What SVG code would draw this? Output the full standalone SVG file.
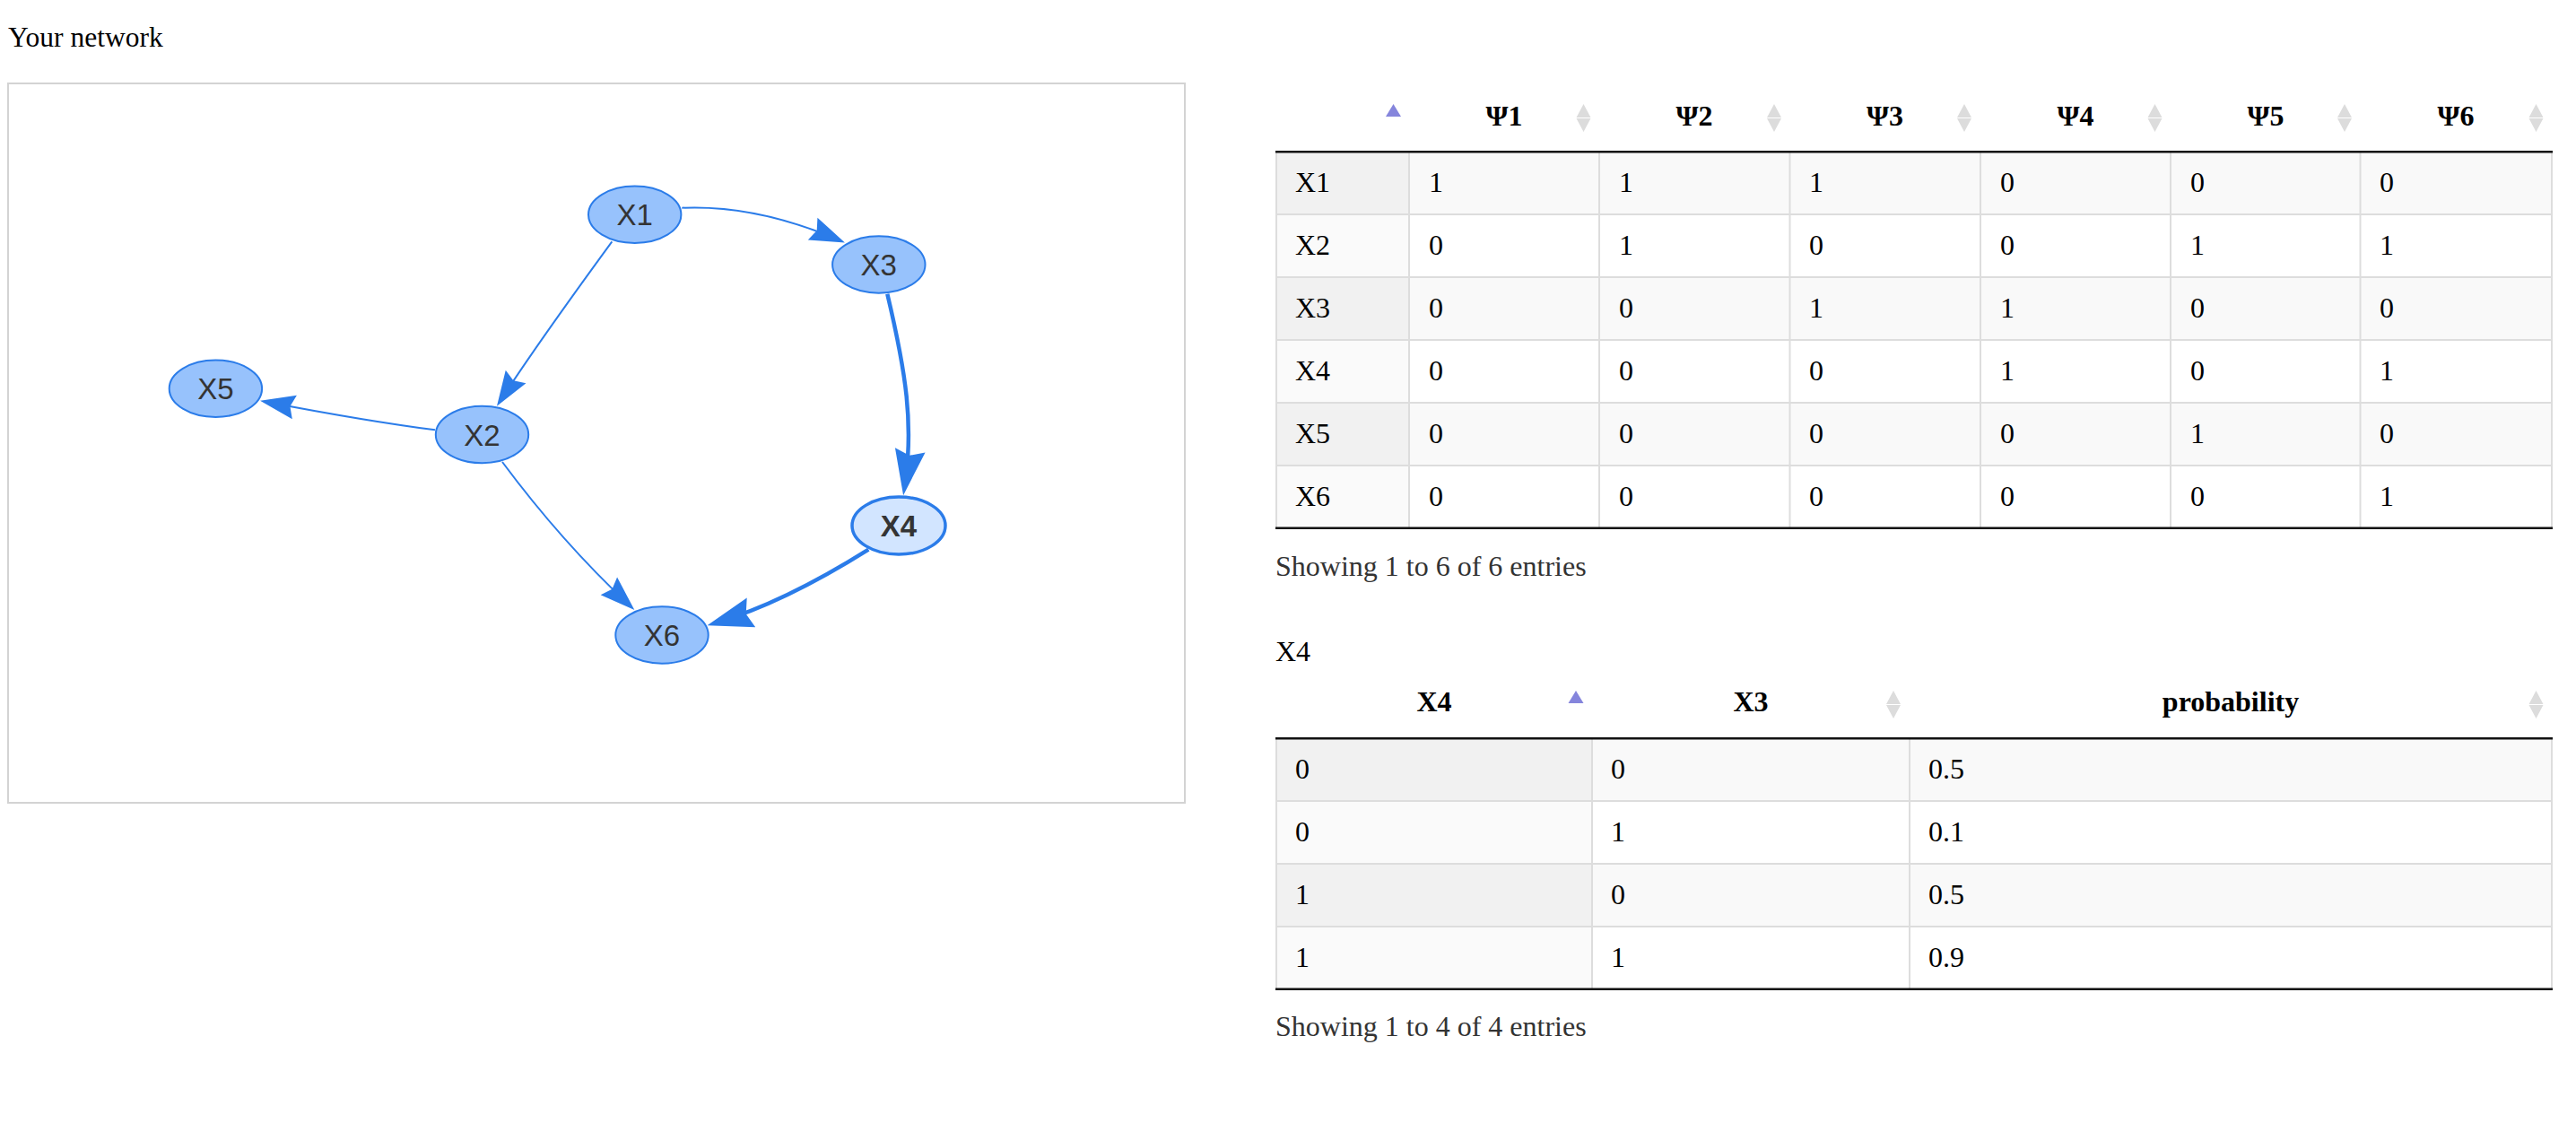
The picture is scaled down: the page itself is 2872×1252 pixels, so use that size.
<svg xmlns="http://www.w3.org/2000/svg" width="2872" height="1252" viewBox="0 0 2872 1252">
<style>
.t{font-family:"Liberation Serif","Times New Roman",serif;font-size:32px;fill:#000}
.h{font-weight:bold;text-anchor:middle}
.info{fill:#333}
.lbl{font-family:"Liberation Sans",Arial,sans-serif;font-size:33px;fill:#343434;text-anchor:middle}
.node{fill:#97c2fc;stroke:#2b7ce9;stroke-width:2}
.sel{fill:#d2e5ff;stroke:#2b7ce9;stroke-width:3.5}
.e{fill:none;stroke:#2b7ce9;stroke-width:2}
.ew{fill:none;stroke:#2b7ce9;stroke-width:4.5}
.grid{stroke:#dddddd;stroke-width:2;fill:none}
.thick{stroke:#111111;stroke-width:2.4;fill:none}
.odd{fill:#f9f9f9}
.s1{fill:#f1f1f1}
.s2{fill:#fafafa}
</style>
<defs>
<marker id="arr" viewBox="-40 -14 42 28" markerWidth="42" markerHeight="28" refX="-8" refY="0" orient="auto" markerUnits="userSpaceOnUse">
<path d="M0,0 L-39,-13.5 L-34,0 L-39,13.5 Z" fill="#2b7ce9"/>
</marker>
<marker id="arrw" viewBox="-52 -18 54 36" markerWidth="54" markerHeight="36" refX="-10" refY="0" orient="auto" markerUnits="userSpaceOnUse">
<path d="M0,0 L-51,-17 L-45,0 L-51,17 Z" fill="#2b7ce9"/>
</marker>
<path id="sort-both" d="M-8,15 L0,0 L8,15 Z M-8,16 L8,16 L0,31 Z" fill="#dcdcdc"/>
<path id="sort-asc" d="M-8.5,14 L0,0 L8.5,14 Z" fill="#8585dc"/>
</defs>
<rect width="2872" height="1252" fill="#ffffff"/>
<text class="t" x="9" y="52" style="font-size:31.5px">Your network</text>
<rect x="9" y="93" width="1312" height="802" fill="none" stroke="#d3d3d3" stroke-width="2"/>

<g id="edges">
<path class="e" d="M760.3,231.7 Q843,228 934.6,267.3" marker-end="url(#arr)"/>
<path class="e" d="M682.3,269.3 Q597,386 558.3,446" marker-end="url(#arr)"/>
<path class="ew" d="M989.3,327.7 C1010,415 1019.1,473.2 1008.6,542.4" marker-end="url(#arrw)"/>
<path class="ew" d="M968.3,612.7 Q872.6,672.7 798.1,694.4" marker-end="url(#arrw)"/>
<path class="e" d="M560,515 Q626.2,604.1 701.5,674.5" marker-end="url(#arr)"/>
<path class="e" d="M485,479.3 Q408.6,469.4 297.9,448.2" marker-end="url(#arr)"/>
</g>

<g id="node-X1"><ellipse class="node" cx="707.7" cy="239.3" rx="51.7" ry="31.7"/><text class="lbl" x="707.7" y="251.3">X1</text></g>
<g id="node-X3"><ellipse class="node" cx="979.8" cy="295" rx="51.7" ry="31.7"/><text class="lbl" x="979.8" y="307">X3</text></g>
<g id="node-X4"><ellipse class="sel" cx="1002" cy="586" rx="52" ry="32"/><text class="lbl" x="1002" y="598" font-weight="bold">X4</text></g>
<g id="node-X6"><ellipse class="node" cx="738" cy="708" rx="51.7" ry="31.7"/><text class="lbl" x="738" y="720">X6</text></g>
<g id="node-X2"><ellipse class="node" cx="537.5" cy="484.5" rx="51.7" ry="31.7"/><text class="lbl" x="537.5" y="496.5">X2</text></g>
<g id="node-X5"><ellipse class="node" cx="240.4" cy="433.2" rx="51.7" ry="31.7"/><text class="lbl" x="240.4" y="445.2">X5</text></g>

<g id="table-psi">
<rect class="odd" x="1422" y="169" width="1423" height="70"/>
<rect class="odd" x="1422" y="309" width="1423" height="70"/>
<rect class="odd" x="1422" y="449" width="1423" height="70"/>
<rect class="s1" x="1422" y="169" width="149" height="70"/>
<rect class="s2" x="1422" y="239" width="149" height="70"/>
<rect class="s1" x="1422" y="309" width="149" height="70"/>
<rect class="s2" x="1422" y="379" width="149" height="70"/>
<rect class="s1" x="1422" y="449" width="149" height="70"/>
<rect class="s2" x="1422" y="519" width="149" height="70"/>
<path class="grid" d="M1422,239H2846M1422,309H2846M1422,379H2846M1422,449H2846M1422,519H2846M1423,169V589M1571,169V589M1783,169V589M1995.5,169V589M2208,169V589M2420,169V589M2631.5,169V589M2845,169V589"/>
<path class="thick" d="M1422,169.2H2846M1422,588.8H2846"/>
<use href="#sort-asc" x="1553.5" y="116"/>
<use href="#sort-both" x="1765.5" y="116"/>
<use href="#sort-both" x="1978" y="116"/>
<use href="#sort-both" x="2190" y="116"/>
<use href="#sort-both" x="2402.5" y="116"/>
<use href="#sort-both" x="2614" y="116"/>
<use href="#sort-both" x="2827.5" y="116"/>
<g class="t h">
<text x="1677" y="140">Ψ1</text><text x="1889" y="140">Ψ2</text><text x="2101.5" y="140">Ψ3</text><text x="2314" y="140">Ψ4</text><text x="2526" y="140">Ψ5</text><text x="2738" y="140">Ψ6</text>
</g>
<g class="t">
<text x="1444" y="214">X1</text><text x="1593" y="214">1</text><text x="1805" y="214">1</text><text x="2017" y="214">1</text><text x="2230" y="214">0</text><text x="2442" y="214">0</text><text x="2653" y="214">0</text>
<text x="1444" y="284">X2</text><text x="1593" y="284">0</text><text x="1805" y="284">1</text><text x="2017" y="284">0</text><text x="2230" y="284">0</text><text x="2442" y="284">1</text><text x="2653" y="284">1</text>
<text x="1444" y="354">X3</text><text x="1593" y="354">0</text><text x="1805" y="354">0</text><text x="2017" y="354">1</text><text x="2230" y="354">1</text><text x="2442" y="354">0</text><text x="2653" y="354">0</text>
<text x="1444" y="424">X4</text><text x="1593" y="424">0</text><text x="1805" y="424">0</text><text x="2017" y="424">0</text><text x="2230" y="424">1</text><text x="2442" y="424">0</text><text x="2653" y="424">1</text>
<text x="1444" y="494">X5</text><text x="1593" y="494">0</text><text x="1805" y="494">0</text><text x="2017" y="494">0</text><text x="2230" y="494">0</text><text x="2442" y="494">1</text><text x="2653" y="494">0</text>
<text x="1444" y="564">X6</text><text x="1593" y="564">0</text><text x="1805" y="564">0</text><text x="2017" y="564">0</text><text x="2230" y="564">0</text><text x="2442" y="564">0</text><text x="2653" y="564">1</text>
</g>
<text class="t info" x="1422" y="642">Showing 1 to 6 of 6 entries</text>
</g>

<g id="table-x4">
<text class="t" x="1422" y="737">X4</text>
<rect class="odd" x="1422" y="823" width="1423" height="70"/>
<rect class="odd" x="1422" y="963" width="1423" height="70"/>
<rect class="s1" x="1422" y="823" width="353" height="70"/>
<rect class="s2" x="1422" y="893" width="353" height="70"/>
<rect class="s1" x="1422" y="963" width="353" height="70"/>
<rect class="s2" x="1422" y="1033" width="353" height="70"/>
<path class="grid" d="M1422,893H2846M1422,963H2846M1422,1033H2846M1423,823V1103M1775,823V1103M2129,823V1103M2845,823V1103"/>
<path class="thick" d="M1422,823.2H2846M1422,1102.8H2846"/>
<use href="#sort-asc" x="1757" y="770"/>
<use href="#sort-both" x="2111" y="770"/>
<use href="#sort-both" x="2827.5" y="770"/>
<g class="t h"><text x="1599" y="793">X4</text><text x="1952" y="793">X3</text><text x="2487" y="793">probability</text></g>
<g class="t">
<text x="1444" y="868">0</text><text x="1796" y="868">0</text><text x="2150" y="868">0.5</text>
<text x="1444" y="938">0</text><text x="1796" y="938">1</text><text x="2150" y="938">0.1</text>
<text x="1444" y="1008">1</text><text x="1796" y="1008">0</text><text x="2150" y="1008">0.5</text>
<text x="1444" y="1078">1</text><text x="1796" y="1078">1</text><text x="2150" y="1078">0.9</text>
</g>
<text class="t info" x="1422" y="1155">Showing 1 to 4 of 4 entries</text>
</g>
</svg>
